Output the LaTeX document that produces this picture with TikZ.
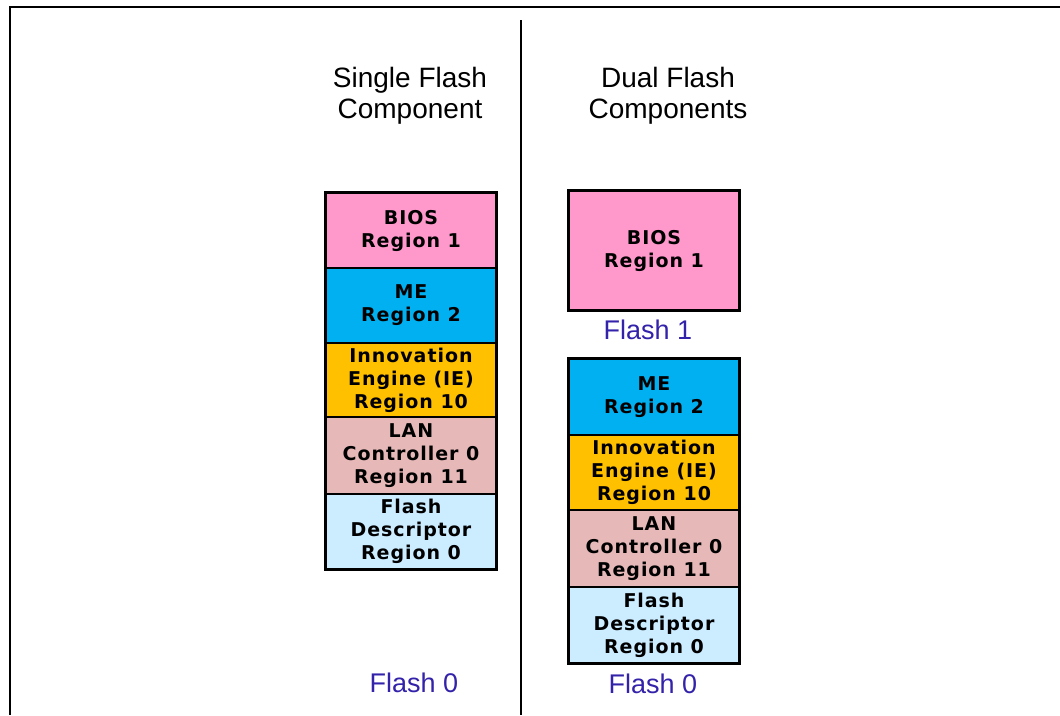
\documentclass[tikz,border=0pt]{standalone}
\usepackage{fontspec}
\setmainfont{Liberation Sans}
\newfontfamily\boxfont[LetterSpace=5]{DejaVu Sans}
\definecolor{biosc}{HTML}{FF99CC}
\definecolor{mec}{HTML}{00B0F0}
\definecolor{iec}{HTML}{FFC000}
\definecolor{lanc}{HTML}{E6B9B8}
\definecolor{fdc}{HTML}{CCECFF}
\definecolor{flashblue}{HTML}{3322AA}
\begin{document}
\begin{tikzpicture}[x=1pt,y=-1pt,
  region/.style={draw=black,line width=1.2pt,minimum width=170pt,inner sep=0pt,align=center,
    font=\boxfont\bfseries\fontsize{19}{23}\selectfont},
  title/.style={align=center,inner sep=0pt,font=\fontsize{28}{31}\selectfont},
  flashlbl/.style={inner sep=0pt,text=flashblue,font=\fontsize{27}{30}\selectfont},
  outline/.style={draw=black,line width=2.6pt},
  frame/.style={draw=black,line width=2pt}]
\useasboundingbox (0,0) rectangle (1060,715);
% frame and divider
\coordinate (ftr) at (1060,7);
\coordinate (ftl) at (10,7);
\coordinate (fbl) at (10,715);
\draw[frame] (ftr) -- (ftl) -- (fbl);
\coordinate (dtop) at (521,20);
\coordinate (dbot) at (521,715);
\draw[draw=black,line width=2.6pt] (dtop) -- (dbot);
% titles
\node[title] (t1) at (410,96) {Single Flash\\Component};
\node[title] (t2) at (668,96) {Dual Flash\\Components};
% left stack
\node[region,fill=biosc,minimum height=75pt] (l1) at (411,230.5) {BIOS\\Region 1};
\node[region,fill=mec,minimum height=75pt] (l2) at (411,305.5) {ME\\Region 2};
\node[region,fill=iec,minimum height=74pt] (l3) at (411,380) {Innovation\\Engine (IE)\\Region 10};
\node[region,fill=lanc,minimum height=77pt] (l4) at (411,455.5) {LAN\\Controller 0\\Region 11};
\node[region,fill=fdc,minimum height=75pt] (l5) at (411,531.5) {Flash\\Descriptor\\Region 0};
\draw[outline] (l1.north west) rectangle (l5.south east);
\node[flashlbl] (lf0) at (414,683) {Flash 0};
% right: flash 1
\node[region,fill=biosc,minimum height=119pt] (r0) at (654,250.5) {BIOS\\Region 1};
\draw[outline] (r0.north west) rectangle (r0.south east);
\node[flashlbl] (rf1) at (648,330) {Flash 1};
% right: flash 0
\node[region,fill=mec,minimum height=76pt] (r1) at (654,397) {ME\\Region 2};
\node[region,fill=iec,minimum height=75pt] (r2) at (654,472.5) {Innovation\\Engine (IE)\\Region 10};
\node[region,fill=lanc,minimum height=77pt] (r3) at (654,548.5) {LAN\\Controller 0\\Region 11};
\node[region,fill=fdc,minimum height=76pt] (r4) at (654,625) {Flash\\Descriptor\\Region 0};
\draw[outline] (r1.north west) rectangle (r4.south east);
\node[flashlbl] (rf0) at (653,684) {Flash 0};
\end{tikzpicture}
\end{document}
